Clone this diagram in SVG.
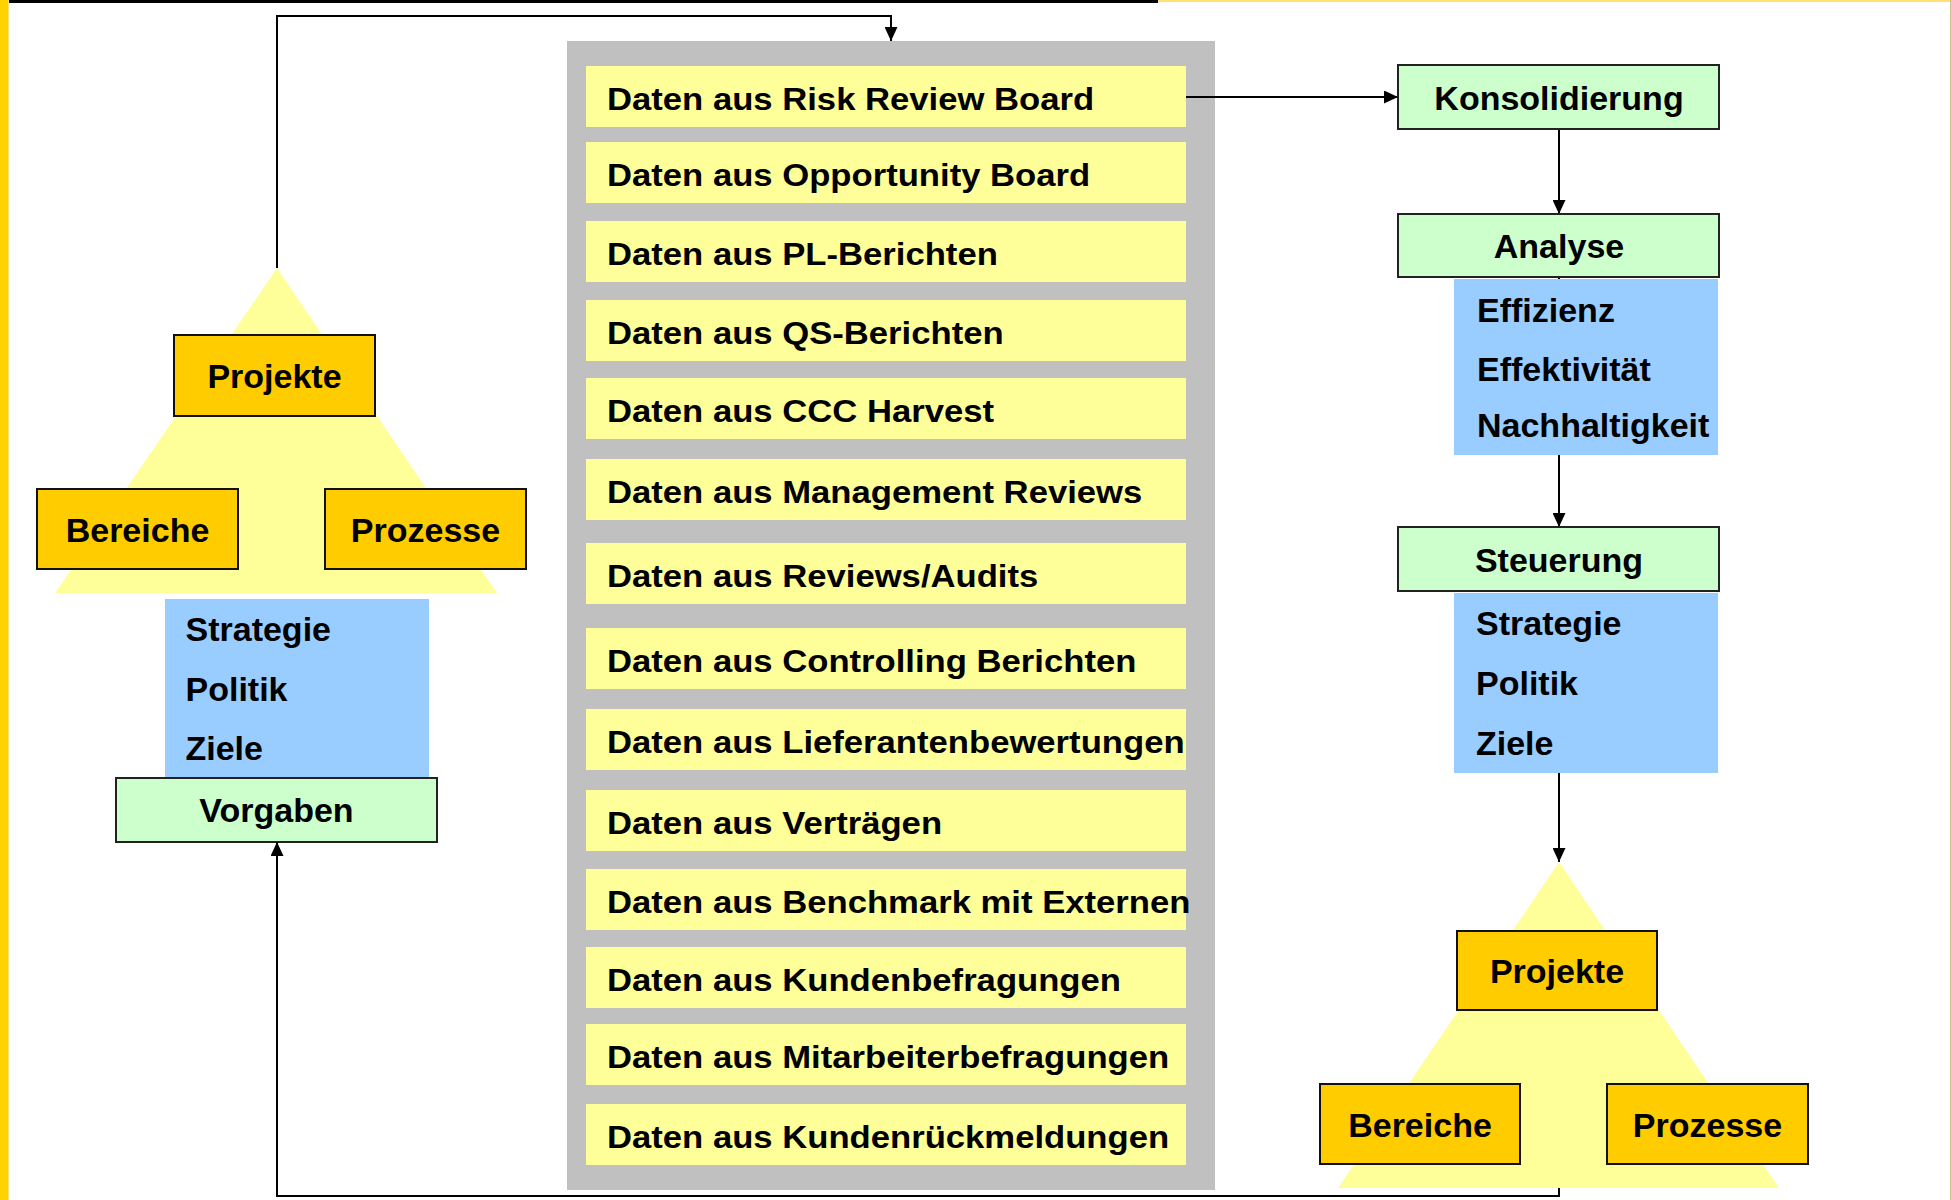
<svg xmlns="http://www.w3.org/2000/svg" width="1951" height="1200" viewBox="0 0 1951 1200">
<defs>
<style>
text{font-family:"Liberation Sans",Arial,sans-serif;font-weight:bold;fill:#000}
.lbl{font-size:34px}
.mid{text-anchor:middle}
.data{font-size:31.5px}
.dbox{fill:#FFFF99}
.orange{fill:#FFCC00;stroke:#111;stroke-width:2}
.green{fill:#CCFFCC;stroke:#222;stroke-width:2}
.blue{fill:#99CCFF}
.tri{fill:#FFFF99}
.conn{fill:none;stroke:#000;stroke-width:2}
</style>
<marker id="arr" markerUnits="userSpaceOnUse" markerWidth="14" markerHeight="13" refX="14" refY="6.5" orient="auto">
<path d="M0,0 L14,6.5 L0,13 z" fill="#000"/>
</marker>
</defs>
<rect x="0" y="0" width="1951" height="1200" fill="#FFFFFF"/>
<rect x="0" y="0" width="1158" height="3" fill="#000"/>
<rect x="1158" y="0" width="793" height="2" fill="#FFE070"/>
<rect x="0" y="0" width="8" height="1200" fill="#FFD200"/>
<rect x="8" y="0" width="1" height="1200" fill="#FFE680"/>
<rect x="1950" y="0" width="1" height="1200" fill="#CDBF8A"/>

<g id="left-pyramid">
<polygon class="tri" points="277,268 497,593 55,593"/>
<g id="left-projekte"><rect class="orange" x="174" y="335" width="201" height="81"/><text class="lbl mid" x="274.5" y="388">Projekte</text></g>
<g id="left-bereiche"><rect class="orange" x="37" y="489" width="201" height="80"/><text class="lbl mid" x="137.5" y="541.5">Bereiche</text></g>
<g id="left-prozesse"><rect class="orange" x="325" y="489" width="201" height="80"/><text class="lbl mid" x="425.5" y="541.5">Prozesse</text></g>
</g>

<g id="left-ziele">
<rect class="blue" x="165" y="599" width="264" height="179"/>
<text class="lbl" x="185.5" y="641">Strategie</text>
<text class="lbl" x="185.5" y="701">Politik</text>
<text class="lbl" x="185.5" y="760">Ziele</text>
</g>
<g id="vorgaben"><rect class="green" x="116" y="778" width="321" height="64"/><text class="lbl mid" x="276.5" y="822">Vorgaben</text></g>

<g id="daten">
<rect x="567" y="41" width="648" height="1149" fill="#C0C0C0"/>
<g id="d1"><rect class="dbox" x="586" y="66" width="600" height="61"/><text class="data" transform="matrix(1.1 0 0 1 607 110)">Daten aus Risk Review Board</text></g>
<g id="d2"><rect class="dbox" x="586" y="142" width="600" height="61"/><text class="data" transform="matrix(1.1 0 0 1 607 186)">Daten aus Opportunity Board</text></g>
<g id="d3"><rect class="dbox" x="586" y="221" width="600" height="61"/><text class="data" transform="matrix(1.1 0 0 1 607 265)">Daten aus PL-Berichten</text></g>
<g id="d4"><rect class="dbox" x="586" y="300" width="600" height="61"/><text class="data" transform="matrix(1.1 0 0 1 607 344)">Daten aus QS-Berichten</text></g>
<g id="d5"><rect class="dbox" x="586" y="378" width="600" height="61"/><text class="data" transform="matrix(1.1 0 0 1 607 422)">Daten aus CCC Harvest</text></g>
<g id="d6"><rect class="dbox" x="586" y="459" width="600" height="61"/><text class="data" transform="matrix(1.1 0 0 1 607 503)">Daten aus Management Reviews</text></g>
<g id="d7"><rect class="dbox" x="586" y="543" width="600" height="61"/><text class="data" transform="matrix(1.1 0 0 1 607 587)">Daten aus Reviews/Audits</text></g>
<g id="d8"><rect class="dbox" x="586" y="628" width="600" height="61"/><text class="data" transform="matrix(1.1 0 0 1 607 672)">Daten aus Controlling Berichten</text></g>
<g id="d9"><rect class="dbox" x="586" y="709" width="600" height="61"/><text class="data" transform="matrix(1.1 0 0 1 607 753)">Daten aus Lieferantenbewertungen</text></g>
<g id="d10"><rect class="dbox" x="586" y="790" width="600" height="61"/><text class="data" transform="matrix(1.1 0 0 1 607 834)">Daten aus Verträgen</text></g>
<g id="d11"><rect class="dbox" x="586" y="869" width="600" height="61"/><text class="data" transform="matrix(1.1 0 0 1 607 913)">Daten aus Benchmark mit Externen</text></g>
<g id="d12"><rect class="dbox" x="586" y="947" width="600" height="61"/><text class="data" transform="matrix(1.1 0 0 1 607 991)">Daten aus Kundenbefragungen</text></g>
<g id="d13"><rect class="dbox" x="586" y="1024" width="600" height="61"/><text class="data" transform="matrix(1.1 0 0 1 607 1068)">Daten aus Mitarbeiterbefragungen</text></g>
<g id="d14"><rect class="dbox" x="586" y="1104" width="600" height="61"/><text class="data" transform="matrix(1.1 0 0 1 607 1148)">Daten aus Kundenrückmeldungen</text></g>
</g>

<g id="connectors">
<path class="conn" d="M277,268 V16 H891 V41" marker-end="url(#arr)"/>
<path class="conn" d="M1186,97 H1398" marker-end="url(#arr)"/>
<path class="conn" d="M1559,129 V214" marker-end="url(#arr)"/>
<path class="conn" d="M1559,277 V527" marker-end="url(#arr)"/>
<path class="conn" d="M1559,773 V862" marker-end="url(#arr)"/>
<path class="conn" d="M1559,1188 V1196 H277 V842" marker-end="url(#arr)"/>
</g>

<g id="konsolidierung"><rect class="green" x="1398" y="65" width="321" height="64"/><text class="lbl mid" x="1559" y="110">Konsolidierung</text></g>
<g id="analyse"><rect class="green" x="1398" y="214" width="321" height="63"/><text class="lbl mid" x="1559" y="258">Analyse</text></g>
<g id="analyse-liste">
<rect class="blue" x="1454" y="279" width="264" height="176"/>
<text class="lbl" x="1477" y="322">Effizienz</text>
<text class="lbl" x="1477" y="381">Effektivität</text>
<text class="lbl" x="1477" y="437">Nachhaltigkeit</text>
</g>
<g id="steuerung"><rect class="green" x="1398" y="527" width="321" height="64"/><text class="lbl mid" x="1559" y="571.5">Steuerung</text></g>
<g id="steuerung-liste">
<rect class="blue" x="1454" y="593" width="264" height="180"/>
<text class="lbl" x="1476" y="635">Strategie</text>
<text class="lbl" x="1476" y="695">Politik</text>
<text class="lbl" x="1476" y="754.5">Ziele</text>
</g>

<g id="right-pyramid">
<polygon class="tri" points="1559,862 1779,1188 1338,1188"/>
<g id="right-projekte"><rect class="orange" x="1457" y="931" width="200" height="79"/><text class="lbl mid" x="1557" y="983">Projekte</text></g>
<g id="right-bereiche"><rect class="orange" x="1320" y="1084" width="200" height="80"/><text class="lbl mid" x="1420" y="1136.5">Bereiche</text></g>
<g id="right-prozesse"><rect class="orange" x="1607" y="1084" width="201" height="80"/><text class="lbl mid" x="1707.5" y="1136.5">Prozesse</text></g>
</g>
</svg>
